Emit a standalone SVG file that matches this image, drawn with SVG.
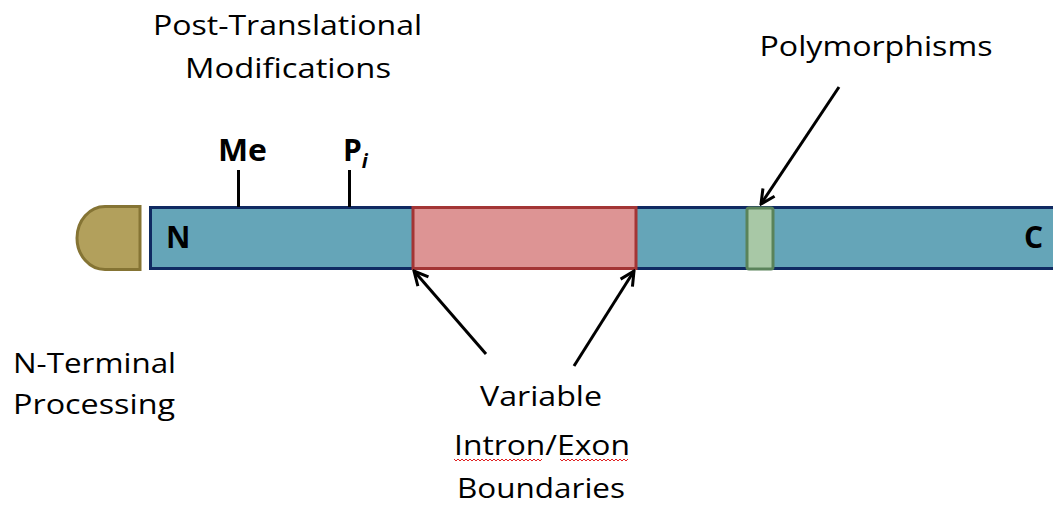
<svg xmlns="http://www.w3.org/2000/svg" width="1053" height="508" viewBox="0 0 1053 508">
  <style>
    .lbl { font-family: "Open Sans", "Liberation Sans", sans-serif; font-size: 28px; fill: #000; }
    .bold { font-family: "Open Sans", "Liberation Sans", sans-serif; font-size: 30px; font-weight: bold; fill: #000; }
    .conn { stroke: #000; stroke-width: 3; fill: none; }
    .tick { stroke: #000; stroke-width: 3; }
    .squig { stroke: #E02020; stroke-width: 1; fill: none; }
  </style>
  <defs>
    <marker id="open" viewBox="0 0 20 20" refX="18" refY="10" markerWidth="20" markerHeight="20" markerUnits="userSpaceOnUse" orient="auto">
      <polyline points="4,3 18,10 4,17" fill="none" stroke="#000" stroke-width="3"/>
    </marker>
  </defs>
  <rect width="1053" height="508" fill="#fff"/>

  <g id="cap">
    <path d="M140,206.5 H105 A28,31.5 0 0 0 77,238 A28,31.5 0 0 0 105,269.5 H140 Z" fill="#B2A05C" stroke="#857434" stroke-width="3"/>
  </g>

  <g id="protein">
    <rect x="150.5" y="207.5" width="910" height="61" fill="#65A5B8" stroke="#102A62" stroke-width="3"/>
    <text class="bold" x="166" y="248">N</text>
    <text class="bold" x="1024" y="248">C</text>
  </g>

  <g id="variable-region">
    <rect x="413" y="207.5" width="223" height="61" fill="#DD9494" stroke="#A33535" stroke-width="3"/>
  </g>

  <g id="polymorphism-site">
    <rect x="747" y="208" width="26" height="61" rx="2" fill="#A8C8A6" stroke="#5A835A" stroke-width="3"/>
  </g>

  <g id="ptm-me">
    <line class="tick" x1="238.5" y1="170" x2="238.5" y2="207"/>
    <text class="bold" x="218" y="161" textLength="49" lengthAdjust="spacingAndGlyphs">Me</text>
  </g>
  <g id="ptm-pi">
    <line class="tick" x1="349.5" y1="170" x2="349.5" y2="207"/>
    <text class="bold" x="343" y="161">P<tspan font-size="20" font-style="italic" dy="7">i</tspan></text>
  </g>

  <g id="label-ptm">
    <text class="lbl" x="287.5" y="35" text-anchor="middle" textLength="269" lengthAdjust="spacingAndGlyphs">Post-Translational</text>
    <text class="lbl" x="288" y="78" text-anchor="middle" textLength="206" lengthAdjust="spacingAndGlyphs">Modifications</text>
  </g>

  <g id="label-polymorphisms">
    <text class="lbl" x="876" y="56" text-anchor="middle" textLength="233" lengthAdjust="spacingAndGlyphs">Polymorphisms</text>
  </g>

  <g id="label-nterm">
    <text class="lbl" x="13" y="373" textLength="163" lengthAdjust="spacingAndGlyphs">N-Terminal</text>
    <text class="lbl" x="13" y="414" textLength="162" lengthAdjust="spacingAndGlyphs">Processing</text>
  </g>

  <g id="label-variable">
    <text class="lbl" x="541" y="406" text-anchor="middle" textLength="122" lengthAdjust="spacingAndGlyphs">Variable</text>
    <text class="lbl" x="542" y="455" text-anchor="middle" textLength="176" lengthAdjust="spacingAndGlyphs">Intron/Exon</text>
    <text class="lbl" x="541" y="498" text-anchor="middle" textLength="168" lengthAdjust="spacingAndGlyphs">Boundaries</text>
    <path class="squig" d="M454,459 l2,2 l2,-2 l2,2 l2,-2 l2,2 l2,-2 l2,2 l2,-2 l2,2 l2,-2 l2,2 l2,-2 l2,2 l2,-2 l2,2 l2,-2 l2,2 l2,-2 l2,2 l2,-2 l2,2 l2,-2 l2,2 l2,-2 l2,2 l2,-2 l2,2 l2,-2 l2,2 l2,-2 l2,2 l2,-2 l2,2 l2,-2 l2,2 l2,-2 l2,2 l2,-2 l2,2 l2,-2 l2,2 l2,-2 l2,2 l2,-2"/>
    <path class="squig" d="M560,459 l2,2 l2,-2 l2,2 l2,-2 l2,2 l2,-2 l2,2 l2,-2 l2,2 l2,-2 l2,2 l2,-2 l2,2 l2,-2 l2,2 l2,-2 l2,2 l2,-2 l2,2 l2,-2 l2,2 l2,-2 l2,2 l2,-2 l2,2 l2,-2 l2,2 l2,-2 l2,2 l2,-2 l2,2 l2,-2 l2,2 l2,-2"/>
  </g>

  <g id="connectors">
    <line class="conn" x1="486" y1="354" x2="414" y2="271" marker-end="url(#open)"/>
    <line class="conn" x1="574" y1="366" x2="634" y2="271" marker-end="url(#open)"/>
    <line class="conn" x1="839" y1="87" x2="761" y2="204" marker-end="url(#open)"/>
  </g>
</svg>
